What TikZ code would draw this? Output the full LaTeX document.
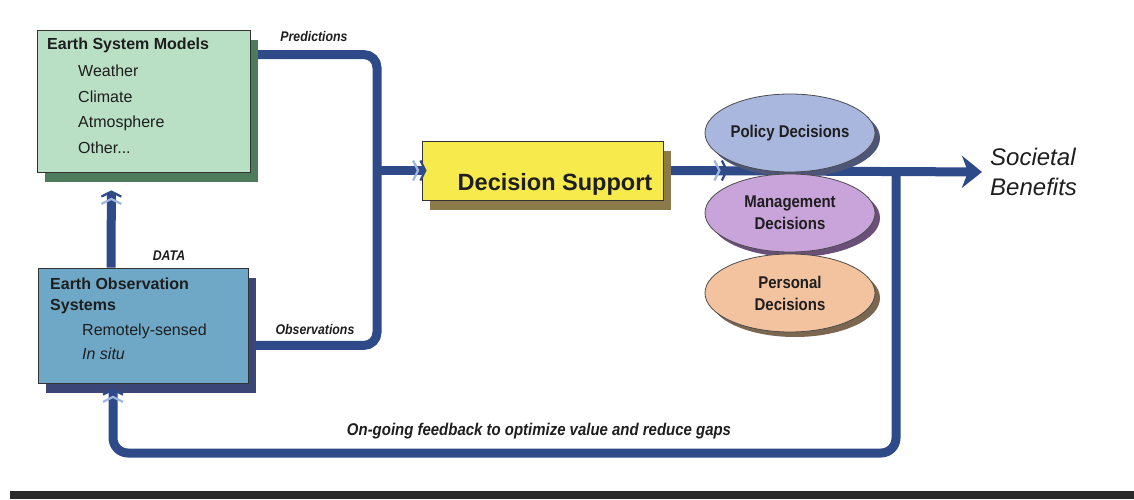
\documentclass[tikz,border=0pt]{standalone}
\usepackage{fontspec}
\setmainfont{Liberation Sans}
\newfontfamily\narrowfont[FakeStretch=0.88]{Liberation Sans}
\usetikzlibrary{arrows.meta,shapes.geometric,shadows,backgrounds}

\definecolor{pipeblue}{HTML}{2E4A88}
\definecolor{chevlight}{HTML}{9FB6E0}
\definecolor{textc}{HTML}{1E1E1E}
\definecolor{barc}{HTML}{2A2A2A}
\definecolor{esmfill}{HTML}{B9DFC4}
\definecolor{esmshade}{HTML}{4E7B5B}
\definecolor{eosfill}{HTML}{6EA8C6}
\definecolor{eosshade}{HTML}{3B4677}
\definecolor{dsfill}{HTML}{F6EA4C}
\definecolor{dsshade}{HTML}{8C7A4A}
\definecolor{polfill}{HTML}{A9B7DF}
\definecolor{polshade}{HTML}{4D5677}
\definecolor{mgtfill}{HTML}{C8A4DA}
\definecolor{mgtshade}{HTML}{6A5078}
\definecolor{perfill}{HTML}{F3C39F}
\definecolor{pershade}{HTML}{7B6650}

\tikzset{
  pipe/.style={draw=pipeblue, line width=9pt},
  chevron/.tip={Straight Barb[length=5pt,width=20pt,line width=2.2pt,color=chevlight]
    Straight Barb[length=5pt,width=20pt,line width=2.2pt]},
  block/.style={rectangle, draw=black!80, line width=0.8pt, inner sep=0pt},
  lift/.style={drop shadow={shadow xshift=8pt,shadow yshift=-10pt,fill=#1,opacity=1}},
  oval lift/.style={drop shadow={shadow xshift=5pt,shadow yshift=-5pt,fill=#1,opacity=1}},
  choice/.style={ellipse, draw=black!70, line width=0.8pt, inner sep=0pt,
    minimum width=170pt, minimum height=78pt, align=center, text=textc,
    font=\narrowfont\bfseries\fontsize{17}{22}\selectfont},
  tag/.style={font=\narrowfont\bfseries\itshape\fontsize{14}{16}\selectfont,
    text=textc, inner sep=0pt, anchor=base},
  boxtext/.style={font=\fontsize{16}{25.5}\selectfont, align=left,
    anchor=north west, inner sep=0pt, text=textc},
}

\begin{document}
\begin{tikzpicture}[x=1pt,y=1pt]
  \useasboundingbox (0,0) rectangle (1134,499);
  \fill[barc] (10,0) rectangle (1134,8);

  % the three boxes
  \node[block, fill=esmfill, lift=esmshade, minimum width=213pt, minimum height=142pt] (esm) at (143.5,398) {};
  \node[block, fill=eosfill, lift=eosshade, minimum width=210pt, minimum height=115pt] (eos) at (143,173.5) {};
  \node[block, fill=dsfill, lift=dsshade, minimum width=241pt, minimum height=59pt] (ds) at (542.5,328.5) {};

  \node[boxtext] (esmtext) at (47,461) {\textbf{Earth System Models}\\[1.5pt]
    \hspace*{31pt}Weather\\ \hspace*{31pt}Climate\\
    \hspace*{31pt}Atmosphere\\ \hspace*{31pt}Other...};
  \node[boxtext, font=\fontsize{16}{21}\selectfont] (eostext) at (50,221) {\textbf{Earth Observation}\\
    \textbf{Systems}\\[4pt] \hspace*{32pt}Remotely-sensed\\[3pt] \hspace*{32pt}\textit{In situ}};
  \node[font=\bfseries\fontsize{23.5}{28}\selectfont, text=textc, anchor=base, inner sep=0pt] (dstext) at (555,309) {Decision Support};

  \node[font=\itshape\fontsize{24}{30}\selectfont, text=textc, align=left, anchor=west, inner sep=0pt] (benefits) at (990,327) {Societal\\Benefits};

  % decisions
  \node[choice, fill=polfill, oval lift=polshade] (policy) at (790,366) {Policy Decisions};
  \node[choice, fill=mgtfill, oval lift=mgtshade] (mgmt) at (790,286) {Management\\Decisions};
  \node[choice, fill=perfill, oval lift=pershade] (personal) at (790,206) {Personal\\Decisions};

  \coordinate (jn) at (377,328.5);
  \coordinate (dsout) at (728,328.5);
  \coordinate (fbtop) at (896,328.5);
  \coordinate (fbbot) at (896,46);

  \begin{pgfonlayer}{background}
    \draw[pipe, rounded corners=13pt] ([yshift=-25pt]esm.north east) -| (jn) |- ([yshift=38pt]eos.south east);
    \draw[pipe, -{Stealth[length=20pt,width=32pt,inset=6pt]}, shorten >=8pt] (ds.east) -- (benefits.west);
    \draw[pipe, -{chevron}] (ds.east) -- (dsout);
  \end{pgfonlayer}

  \draw[pipe, -{chevron}, shorten >=-5pt] (jn) -- (ds.west);
  \draw[pipe, -{chevron}, shorten >=18pt] ([xshift=-32pt]eos.north) -- ([xshift=-32pt]esm.south);
  \draw[pipe, -{chevron}, rounded corners=15pt, shorten >=5pt] (fbtop) -- (fbbot) -| ([xshift=-30pt]eos.south);

  \node[tag] (pred) at (314,457) {Predictions};
  \node[tag] (obs) at (315,165) {Observations};
  \node[tag] (data) at (169,239) {DATA};
  \node[tag, font=\narrowfont\bfseries\itshape\fontsize{17}{20}\selectfont] (loop) at (539,64) {On-going feedback to optimize value and reduce gaps};
\end{tikzpicture}
\end{document}
